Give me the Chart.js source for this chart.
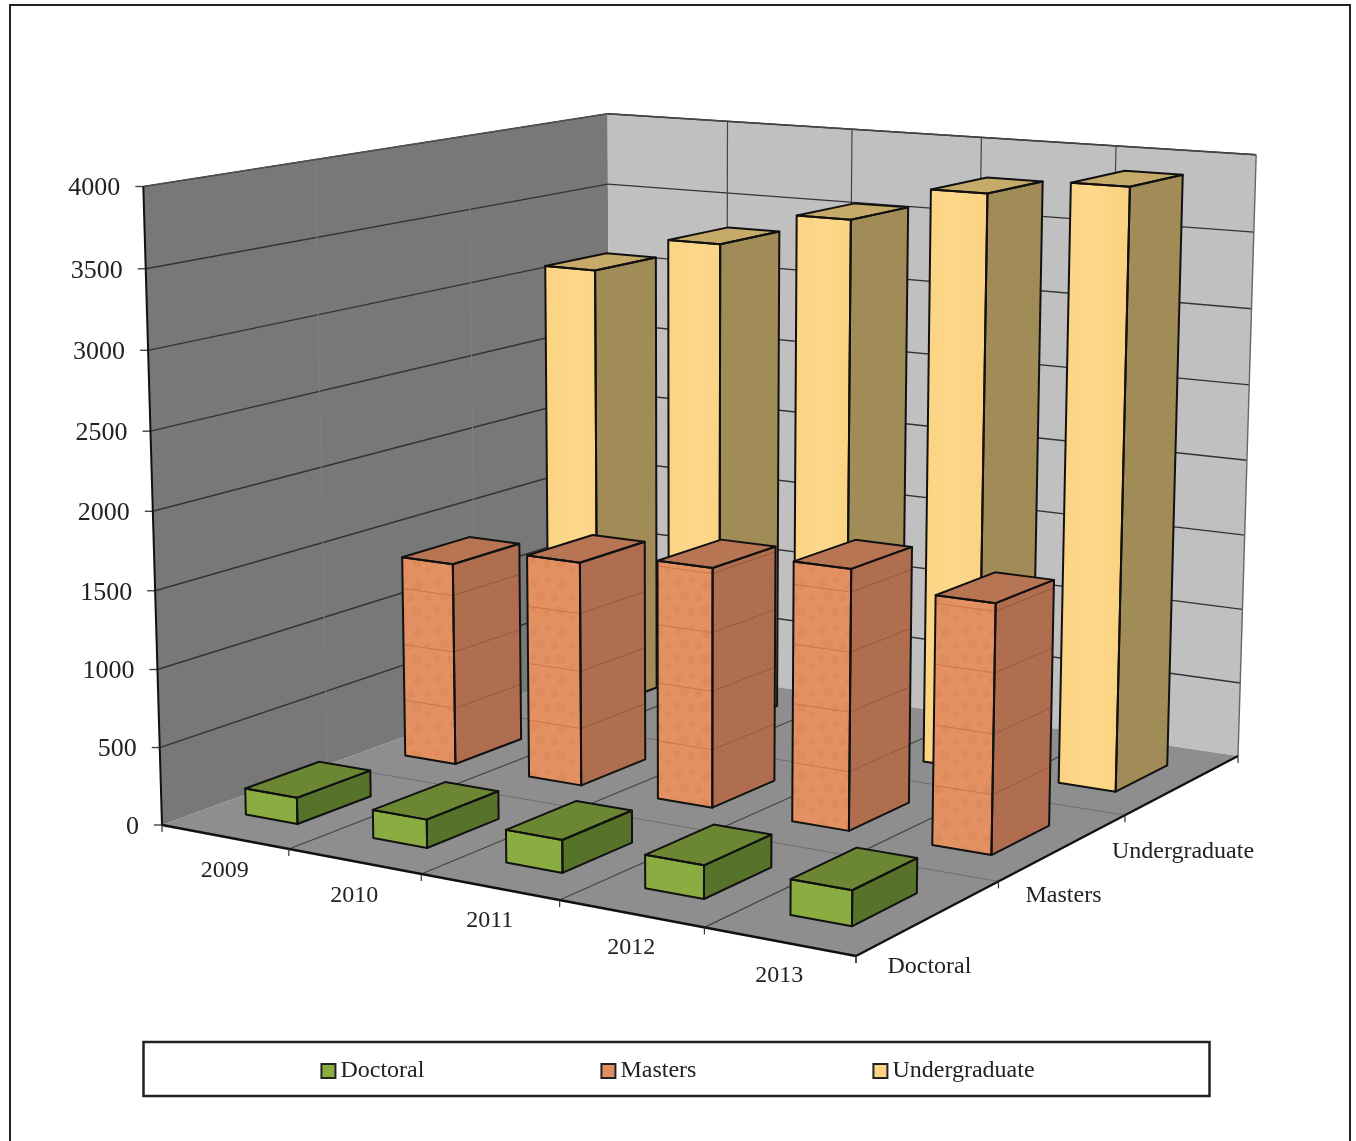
<!DOCTYPE html>
<html>
<head>
<meta charset="utf-8">
<title>Enrolment by level</title>
<script src="https://cdn.jsdelivr.net/npm/chart.js@4"></script>
<style>
  html, body { margin: 0; padding: 0; background: #fff; }
  canvas { display: block; }
</style>
</head>
<body>
<canvas id="chart" width="1356" height="1141"></canvas>
<script>
const years = ['2009', '2010', '2011', '2012', '2013'];
const levels = ['Doctoral', 'Masters', 'Undergraduate'];
const yTicks = [0, 500, 1000, 1500, 2000, 2500, 3000, 3500, 4000];
const doctoral = [170, 180, 205, 205, 215];
const masters = [1350, 1475, 1555, 1665, 1570];
const undergraduate = [3080, 3330, 3560, 3795, 3900];

const SERIF = '"Liberation Serif", "Times New Roman", serif';
const INK = '#222222';
const BAR_X = 0.41;   // bar width, share of a year cell
const BAR_Z = 0.45;   // bar depth, share of a level cell
const BAND_STEP = 380; // brick texture repeat on the Masters bars

// where the corners of the plot box land on the page
const floorA = [162, 825, 1], floorB = [856, 956, 1], floorC = [1238, 756, 1], floorD = [610, 662, 1];
const wallTops = [[0, 0, 143, 186], [0, 1, 608, 114], [1, 1, 1256, 155]];

const det3 = (a, b, c) =>
  a[0] * (b[1] * c[2] - b[2] * c[1]) - a[1] * (b[0] * c[2] - b[2] * c[0]) + a[2] * (b[0] * c[1] - b[1] * c[0]);

function solve3(a, b, c, d) {
  const den = det3(a, b, c);
  return [det3(d, b, c) / den, det3(a, d, c) / den, det3(a, b, d) / den];
}

const [kb, kd, ke] = solve3(floorB, floorD, floorA, floorC);
const pX = floorB.map((v, i) => kb * v + ke * floorA[i]);
const pZ = floorD.map((v, i) => kd * v + ke * floorA[i]);
const p0 = floorA.map(v => -ke * v);

// vertical column of the camera matrix, least squares over the three wall corners
const pY = (function () {
  const N = [[0, 0, 0], [0, 0, 0], [0, 0, 0]], r = [0, 0, 0];
  wallTops.forEach(([x, z, u, v]) => {
    const q = [0, 1, 2].map(i => pX[i] * x + pZ[i] * z + p0[i]);
    [[[1, 0, -u], u * q[2] - q[0]], [[0, 1, -v], v * q[2] - q[1]]].forEach(([row, rhs]) => {
      row.forEach((a, i) => {
        r[i] += a * rhs;
        row.forEach((b, j) => { N[i][j] += a * b; });
      });
    });
  });
  return solve3(N[0], N[1], N[2], r);
})();

function project(x, y, z) {
  const h = [0, 1, 2].map(i => pX[i] * x + pY[i] * y + pZ[i] * z + p0[i]);
  return [h[0] / h[2], h[1] / h[2]];
}

function brickPattern(ctx) {
  const c = document.createElement('canvas');
  c.width = c.height = 48;
  const t = c.getContext('2d');
  t.fillStyle = '#e39063';
  t.fillRect(0, 0, 48, 48);
  t.fillStyle = '#dd8b5d';
  [[6, 7, 4], [20, 4, 3], [34, 9, 5], [44, 22, 3], [12, 20, 5], [27, 22, 4], [5, 33, 3], [19, 36, 4], [33, 35, 5], [44, 42, 3], [24, 45, 2]]
    .forEach(([x, y, r]) => {
      t.beginPath();
      t.arc(x, y, r, 0, Math.PI * 2);
      t.fill();
    });
  return ctx.createPattern(c, 'repeat');
}

const barStyles = [
  { front: '#8aad42', side: '#567329', top: '#6b8733' },
  { front: null, side: '#a8694c', top: '#b87553' },
  { front: null, side: '#a18b57', top: '#c6aa6a' }
];

const plot3d = {
  id: 'plot3d',
  afterLayout(chart) {
    // the legend padding spreads its items, so place the box by hand
    chart.legend.left = 3.5;
    chart.legend.right = 1359.5;
    chart.legend.top = 875;
  },
  beforeDatasetsDraw(chart) {
    const ctx = chart.ctx, sx = chart.scales.x, sy = chart.scales.y, sz = chart.scales.depth;
    const X = v => sx.getDecimalForPixel(sx.getPixelForValue(v));
    const Y = v => sy.getDecimalForPixel(sy.getPixelForValue(v));
    const Z = v => sz.getDecimalForPixel(sz.getPixelForValue(v));

    const poly = (pts, fill, stroke, lw) => {
      ctx.beginPath();
      pts.forEach((p, i) => (i ? ctx.lineTo(p[0], p[1]) : ctx.moveTo(p[0], p[1])));
      ctx.closePath();
      if (fill) { ctx.fillStyle = fill; ctx.fill(); }
      if (stroke) { ctx.strokeStyle = stroke; ctx.lineWidth = lw; ctx.lineJoin = 'round'; ctx.stroke(); }
    };
    const line = (a, b, color, lw) => {
      ctx.beginPath();
      ctx.moveTo(a[0], a[1]);
      ctx.lineTo(b[0], b[1]);
      ctx.strokeStyle = color;
      ctx.lineWidth = lw;
      ctx.stroke();
    };
    const text = (s, x, y, size, align) => {
      ctx.font = size + 'px ' + SERIF;
      ctx.fillStyle = INK;
      ctx.textAlign = align;
      ctx.textBaseline = 'middle';
      ctx.fillText(s, x, y);
    };

    // page frame and legend frame
    ctx.strokeStyle = INK;
    ctx.lineWidth = 2;
    ctx.strokeRect(10, 5, 1340, 1160);
    ctx.lineWidth = 2.5;
    ctx.strokeRect(143.5, 1042, 1066, 54);

    // walls and floor
    poly([project(0, 0, 0), project(0, 1, 0), project(0, 1, 1), project(0, 0, 1)], '#787878');
    poly([project(0, 0, 1), project(0, 1, 1), project(1, 1, 1), project(1, 0, 1)], '#c0c0c0');
    poly([project(0, 0, 0), project(1, 0, 0), project(1, 0, 1), project(0, 0, 1)], '#8e8e8e');

    const xEdges = years.map((_, i) => X(i - 0.5)).concat(1);
    const zEdges = levels.map((_, i) => Z(i - 0.5)).concat(1);

    // value gridlines on both walls, with ticks on the left edge
    yTicks.forEach(v => {
      const y = Y(v), left = project(0, y, 0);
      if (v > 0) {
        line(left, project(0, y, 1), '#333333', 1.4);
        line(project(0, y, 1), project(1, y, 1), '#333333', 1.4);
      }
      line([left[0] - 8, left[1]], left, '#444444', 1.4);
      text(String(v), left[0] - 23, left[1] + 2, 26, 'right');
    });
    // year lines up the back wall and across the floor
    xEdges.forEach((x, i) => {
      if (i > 0 && i < xEdges.length - 1) line(project(x, 0, 1), project(x, 1, 1), '#444444', 1.2);
      if (i > 0 && i < xEdges.length - 1) line(project(x, 0, 0), project(x, 0, 1), '#444444', 1.2);
    });
    // level lines across the floor, faint verticals on the left wall
    zEdges.forEach((z, i) => {
      if (i > 0 && i < zEdges.length - 1) {
        line(project(0, 0, z), project(1, 0, z), '#6f6f6f', 1);
        line(project(0, 0, z), project(0, 1, z), '#7f7f7f', 1);
      }
    });
    // box edges
    line(project(0, 1, 0), project(0, 1, 1), '#555555', 1.2);
    line(project(0, 1, 1), project(1, 1, 1), '#444444', 1.4);
    line(project(1, 1, 1), project(1, 0, 1), '#666666', 1.4);
    line(project(0, 1, 0), project(0, 0, 0), '#111111', 2);
    line(project(0, 0, 0), project(1, 0, 0), '#111111', 2.4);
    line(project(1, 0, 0), project(1, 0, 1), '#111111', 2.4);

    // axis ticks and category labels
    xEdges.forEach(x => {
      const p = project(x, 0, 0);
      line(p, [p[0], p[1] + 7], '#333333', 1.2);
    });
    zEdges.forEach(z => {
      const p = project(1, 0, z);
      line(p, [p[0], p[1] + 7], '#333333', 1.2);
    });
    years.forEach((y, i) => {
      const p = project(X(i), 0, 0);
      text(y, p[0], p[1] + 34, 24, 'center');
    });
    const levelDrop = [49, 48, 67];
    levels.forEach((l, i) => {
      const p = project(1, 0, Z(i));
      text(l, p[0], p[1] + levelDrop[i], 24, 'center');
    });

    // bars, back row first and left to right inside a row
    const pattern = brickPattern(ctx);
    for (let d = chart.data.datasets.length - 1; d >= 0; d--) {
      const values = chart.data.datasets[d].data, st = barStyles[d];
      values.forEach((value, i) => {
        const x0 = X(i - BAR_X / 2), x1 = X(i + BAR_X / 2);
        const z0 = Z(d - BAR_Z / 2), z1 = Z(d + BAR_Z / 2);
        const y = Y(value);
        const front = [project(x0, 0, z0), project(x1, 0, z0), project(x1, y, z0), project(x0, y, z0)];
        const side = [project(x1, 0, z0), project(x1, 0, z1), project(x1, y, z1), project(x1, y, z0)];
        const top = [project(x0, y, z0), project(x1, y, z0), project(x1, y, z1), project(x0, y, z1)];

        let frontFill = st.front;
        if (d === 1) frontFill = pattern;
        if (d === 2) {
          frontFill = ctx.createLinearGradient(front[0][0], 0, front[1][0], 0);
          frontFill.addColorStop(0, '#fbd382');
          frontFill.addColorStop(0.6, '#fdd88c');
          frontFill.addColorStop(1, '#fbd382');
        }
        poly(side, st.side);
        if (d === 1) {
          ctx.save();
          ctx.globalAlpha = 0.12;
          poly(side, pattern);
          ctx.restore();
        }
        poly(front, frontFill);
        poly(top, st.top);
        if (d === 1) {
          for (let v = BAND_STEP; v < value; v += BAND_STEP) {
            const by = Y(v);
            line(project(x0, by, z0), project(x1, by, z0), '#cc7548', 1);
            line(project(x1, by, z0), project(x1, by, z1), '#95583b', 1);
          }
        }
        poly(side, null, '#111111', 2);
        poly(front, null, '#111111', 2);
        poly(top, null, '#111111', 2);
      });
    }
    return false; // the flat bars are replaced by the drawing above
  }
};

new Chart(document.getElementById('chart'), {
  type: 'bar',
  data: {
    labels: years,
    datasets: [
      { label: 'Doctoral', data: doctoral, backgroundColor: '#8aad42', borderColor: INK, borderWidth: 2 },
      { label: 'Masters', data: masters, backgroundColor: '#df8f62', borderColor: INK, borderWidth: 2 },
      { label: 'Undergraduate', data: undergraduate, backgroundColor: '#fbd382', borderColor: INK, borderWidth: 2 }
    ]
  },
  options: {
    responsive: false,
    animation: false,
    plugins: {
      title: { display: false },
      tooltip: { enabled: false },
      legend: {
        position: 'bottom',
        labels: {
          usePointStyle: true,
          pointStyle: 'rect',
          boxWidth: 0.01,
          boxHeight: 14,
          padding: 184,
          color: INK,
          font: { family: SERIF, size: 24 }
        }
      }
    },
    scales: {
      x: { display: false, offset: true },
      y: { display: false, min: 0, max: 4000, ticks: { stepSize: 500 } },
      depth: { type: 'category', axis: 'x', position: 'bottom', display: false, offset: true, labels: levels }
    }
  },
  plugins: [plot3d]
});
</script>
</body>
</html>
